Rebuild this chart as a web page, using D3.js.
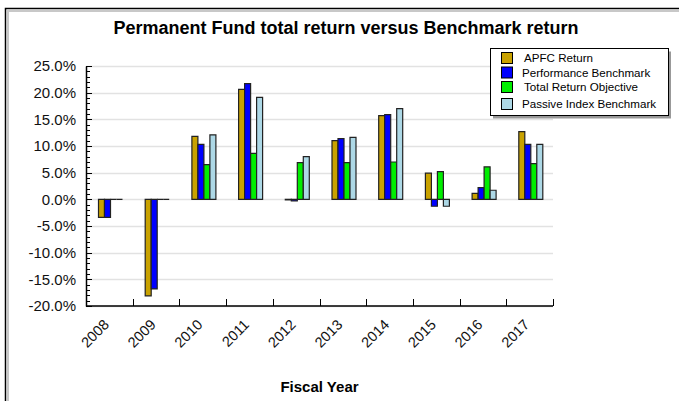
<!DOCTYPE html>
<html>
<head>
<meta charset="utf-8">
<script src="https://cdn.jsdelivr.net/npm/d3@7/dist/d3.min.js"></script>
<style>
  body { margin: 0; background: #fff; overflow: hidden; }
  svg { display: block; font-family: "Liberation Sans", Arial, sans-serif; }
</style>
</head>
<body>
<div id="chart"></div>
<script>
"use strict";

const years = ["2008", "2009", "2010", "2011", "2012", "2013", "2014", "2015", "2016", "2017"];
const seriesNames = ["APFC Return", "Performance Benchmark", "Total Return Objective", "Passive Index Benchmark"];
const apfcReturn = [-3.4, -18.1, 11.8, 20.6, -0.1, 11.0, 15.7, 4.9, 1.1, 12.7];
const perfBenchmark = [-3.4, -16.8, 10.3, 21.7, -0.3, 11.4, 15.9, -1.3, 2.2, 10.3];
const totalReturnObjective = [0, 0, 6.5, 8.6, 6.9, 6.9, 7.0, 5.2, 6.1, 6.7];
const passiveIndex = [0, 0, 12.1, 19.1, 8.0, 11.6, 17.0, -1.3, 1.7, 10.3];
const yTicks = [-20, -15, -10, -5, 0, 5, 10, 15, 20, 25];
const colors = ["#c9a200", "#0000ff", "#00ee00", "#add8e6"];

const width = 679, height = 401;
const margin = { top: 66, right: 126, bottom: 95, left: 86 };
const innerWidth = width - margin.left - margin.right;
const innerHeight = height - margin.top - margin.bottom;

const series = [apfcReturn, perfBenchmark, totalReturnObjective, passiveIndex];

const svg = d3.select("#chart").append("svg")
    .attr("width", width)
    .attr("height", height);

// outer frame (only top and left edges are visible)
svg.append("path")
    .attr("d", `M8,${height}V11H${width}`)
    .attr("fill", "none").attr("stroke", "#c8c8c8").attr("stroke-width", 2);
svg.append("path")
    .attr("d", `M5.5,${height}V8.5H${width}`)
    .attr("fill", "none").attr("stroke", "#000").attr("stroke-width", 1.5);

svg.append("text")
    .attr("x", 346).attr("y", 34)
    .attr("text-anchor", "middle")
    .attr("font-size", 18).attr("font-weight", "bold")
    .text("Permanent Fund total return versus Benchmark return");

const g = svg.append("g")
    .attr("transform", `translate(${margin.left},${margin.top})`);

const x0 = d3.scaleBand()
    .domain(years)
    .range([0, innerWidth]);

const x1 = d3.scaleBand()
    .domain(d3.range(series.length))
    .range([12.5, 36.5]);

const y = d3.scaleLinear()
    .domain([-20, 25])
    .range([innerHeight, 0]);

// grid
g.append("g")
    .selectAll("line")
    .data(yTicks)
    .enter().append("line")
        .attr("x1", 0).attr("x2", innerWidth)
        .attr("y1", d => Math.round(y(d)) + 0.5)
        .attr("y2", d => Math.round(y(d)) + 0.5)
        .attr("stroke", "#e2e2e2")
        .attr("stroke-width", 1.5);

// bars
const groups = g.append("g")
    .selectAll("g")
    .data(years)
    .enter().append("g")
        .attr("transform", d => `translate(${x0(d)},0)`);

groups.selectAll("path")
    .data((d, i) => series.map((s, k) => ({ k: k, value: s[i] })))
    .enter().append("path")
        .attr("d", d => {
            const bx = x1(d.k), bw = x1.bandwidth();
            const y0 = y(0), yv = y(d.value);
            return `M${bx},${y0}H${bx + bw}V${yv}H${bx}Z`;
        })
        .attr("fill", d => colors[d.k])
        .attr("stroke", "#222")
        .attr("stroke-width", 1.2);

// y axis
const yAxis = d3.axisLeft(y)
    .tickValues(yTicks)
    .tickFormat(d => (d < 0 ? "-" : "") + Math.abs(d).toFixed(1) + "%")
    .tickSize(0)
    .tickPadding(10);

const yAxisG = g.append("g").call(yAxis);
yAxisG.select(".domain").attr("stroke", "#000").attr("stroke-width", 1.5);
yAxisG.selectAll("text")
    .attr("font-size", 15)
    .attr("font-family", "Liberation Sans, Arial, sans-serif")
    .attr("fill", "#111");

// minor ticks on y axis, pointing inward
const minorTicks = d3.range(-20, 25.01, 1);
g.append("g")
    .selectAll("line")
    .data(minorTicks)
    .enter().append("line")
        .attr("x1", 0)
        .attr("x2", d => d % 5 === 0 ? 6 : 4)
        .attr("y1", d => Math.round(y(d)) + 0.5)
        .attr("y2", d => Math.round(y(d)) + 0.5)
        .attr("stroke", "#000");

// x axis
const xAxisG = g.append("g")
    .attr("transform", `translate(0,${innerHeight})`);
xAxisG.append("line")
    .attr("x1", 0).attr("x2", innerWidth)
    .attr("stroke", "#000").attr("stroke-width", 1.5);
xAxisG.selectAll("line.tick")
    .data(years.slice(1).concat(["end"]))
    .enter().append("line")
        .attr("class", "tick")
        .attr("x1", (d, i) => Math.round(x0.step() * (i + 1)) + 0.5)
        .attr("x2", (d, i) => Math.round(x0.step() * (i + 1)) + 0.5)
        .attr("y1", 0).attr("y2", -7)
        .attr("stroke", "#000");

xAxisG.selectAll("text")
    .data(years)
    .enter().append("text")
        .attr("transform", d => `translate(${x0(d) + x0.bandwidth() / 2 - 3},${16}) rotate(-45)`)
        .attr("text-anchor", "end")
        .attr("dy", "0.35em")
        .attr("font-size", 14.5)
        .attr("fill", "#111")
        .text(d => d);

svg.append("text")
    .attr("x", margin.left + innerWidth / 2)
    .attr("y", 392)
    .attr("text-anchor", "middle")
    .attr("font-size", 15).attr("font-weight", "bold")
    .text("Fiscal Year");

// legend
const legend = svg.append("g");
legend.append("rect")
    .attr("x", 493).attr("y", 51.5)
    .attr("width", 178).attr("height", 67)
    .attr("fill", "#999");
legend.append("rect")
    .attr("x", 490.5).attr("y", 48.5)
    .attr("width", 178).attr("height", 67)
    .attr("fill", "#fff").attr("stroke", "#000");

const rowY = [58, 72.5, 87, 104];
const items = legend.selectAll("g.item")
    .data(seriesNames)
    .enter().append("g")
        .attr("class", "item")
        .attr("transform", (d, i) => `translate(501,${rowY[i]})`);
items.append("rect")
    .attr("x", 0.5).attr("y", -5.5)
    .attr("width", 11).attr("height", 11)
    .attr("fill", (d, i) => colors[i])
    .attr("stroke", "#000");
items.append("text")
    .attr("x", (d, i) => i === 0 || i === 2 ? 23 : 21)
    .attr("dy", "0.35em")
    .attr("font-size", 11.6)
    .text(d => d);
</script>
</body>
</html>
